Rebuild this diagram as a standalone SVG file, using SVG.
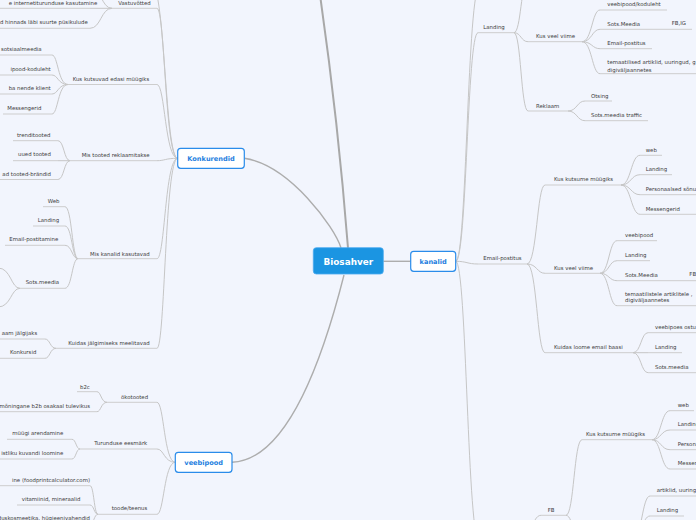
<svg xmlns="http://www.w3.org/2000/svg" width="696" height="520" viewBox="0 0 696 520">
<style>
.t{font-family:"DejaVu Sans",Verdana,sans-serif;font-size:5.4px;fill:#3c3c3c}
.e{text-anchor:end}
.ul{stroke:#cdcdcd;stroke-width:1;fill:none}
.c{stroke:#c6c6c6;stroke-width:1;fill:none}
.m{stroke:#adadad;stroke-width:1.4;fill:none}
.mt{stroke:#a8a8a8;stroke-width:2;fill:none}
.box{fill:#ffffff;stroke:#2a8cea;stroke-width:1.2}
.bt{font-family:"DejaVu Sans",Verdana,sans-serif;font-size:6.6px;font-weight:bold;fill:#1f7fe0;text-anchor:middle}
</style>
<rect width="696" height="520" fill="#f2f5fd"/>
<g id="connectors">
<path class="mt" d="M 348 248 Q 338 120 320 -5"/>
<path class="m" d="M 341 248 C 335 228, 290 165, 244.3 158.3"/>
<path class="m" d="M 344 275 C 325 350, 290 460, 232 462.3"/>
<path class="m" d="M 383.3 261.3 L 410.7 261.3"/>
<path class="c" d="M 177.7 158.3 C 165 158.3, 165 -15, 152 -15"/>
<path class="c" d="M 177.7 158.3 C 165 158.3, 165 8.3, 157 8.3"/>
<path class="c" d="M 177.7 158.3 C 165 158.3, 165 84.5, 157 84.5"/>
<path class="c" d="M 177.7 158.3 C 165 158.3, 165 160.7, 157 160.7"/>
<path class="c" d="M 177.7 158.3 C 165 158.3, 165 258.7, 157 258.7"/>
<path class="c" d="M 177.7 158.3 C 165 158.3, 165 348.3, 157 348.3"/>
<path class="c" d="M 112 8.3 C 101 8.3, 101 -14, 90 -14"/>
<path class="c" d="M 112 8.3 L 90 8.3"/>
<path class="c" d="M 112 8.3 C 101 8.3, 101 28.3, 90 28.3"/>
<path class="c" d="M 68 84.5 C 58 84.5, 58 55, 52 55"/>
<path class="c" d="M 68 84.5 C 58 84.5, 58 75, 52 75"/>
<path class="c" d="M 68 84.5 C 58 84.5, 58 94, 52 94"/>
<path class="c" d="M 68 84.5 C 58 84.5, 58 114, 52 114"/>
<path class="c" d="M 70 160.7 C 64 160.7, 64 140.7, 58 140.7"/>
<path class="c" d="M 70 160.7 L 58 160.7"/>
<path class="c" d="M 70 160.7 C 64 160.7, 64 179.5, 58 179.5"/>
<path class="c" d="M 78 258.7 C 72 258.7, 72 206.7, 65 206.7"/>
<path class="c" d="M 78 258.7 C 72 258.7, 72 226, 65 226"/>
<path class="c" d="M 78 258.7 C 72 258.7, 72 245.3, 65 245.3"/>
<path class="c" d="M 78 258.7 C 72 258.7, 72 288.3, 65 288.3"/>
<path class="c" d="M 20 288.3 C 11 288.3, 11 268, -2 268"/>
<path class="c" d="M 20 288.3 C 11 288.3, 11 307, -2 307"/>
<path class="c" d="M 56 348.3 C 50 348.3, 50 339, 45 339"/>
<path class="c" d="M 56 348.3 C 50 348.3, 50 358.3, 45 358.3"/>
<path class="c" d="M 175.3 462.3 C 164 462.3, 164 402.3, 157 402.3"/>
<path class="c" d="M 175.3 462.3 C 164 462.3, 164 449, 157 449"/>
<path class="c" d="M 175.3 462.3 C 164 462.3, 164 514.3, 157 514.3"/>
<path class="c" d="M 107 402.3 C 101 402.3, 101 391.7, 97 391.7"/>
<path class="c" d="M 107 402.3 C 101 402.3, 101 411.7, 97 411.7"/>
<path class="c" d="M 80 449 C 76 449, 76 439.3, 72 439.3"/>
<path class="c" d="M 80 449 C 76 449, 76 459, 72 459"/>
<path class="c" d="M 98 514.3 C 94 514.3, 94 485.7, 90 485.7"/>
<path class="c" d="M 98 514.3 C 94 514.3, 94 505, 90 505"/>
<path class="c" d="M 98 514.3 C 94 514.3, 94 524, 90 524"/>
<path class="c" d="M 455.7 261.3 C 467 261.3, 467 -15, 480 -15"/>
<path class="c" d="M 455.7 261.3 C 467 261.3, 467 32.7, 478 32.7"/>
<path class="c" d="M 455.7 261.3 C 467 261.3, 467 264, 478 264"/>
<path class="c" d="M 455.7 261.3 C 467 261.3, 467 545, 480 545"/>
<path class="c" d="M 514 32.7 C 521 32.7, 521 -20, 528 -20"/>
<path class="c" d="M 514 32.7 C 521 32.7, 521 41.7, 528 41.7"/>
<path class="c" d="M 514 32.7 C 521 32.7, 521 111, 528 111"/>
<path class="c" d="M 582 41.7 C 592 41.7, 592 10, 600 10"/>
<path class="c" d="M 582 41.7 C 592 41.7, 592 29.3, 600 29.3"/>
<path class="c" d="M 582 41.7 C 592 41.7, 592 48.7, 600 48.7"/>
<path class="c" d="M 582 41.7 C 592 41.7, 592 73.7, 600 73.7"/>
<path class="c" d="M 568 111 C 577 111, 577 101, 585 101"/>
<path class="c" d="M 568 111 C 577 111, 577 120.7, 585 120.7"/>
<path class="c" d="M 527 264 C 537 264, 537 185, 545 185"/>
<path class="c" d="M 527 264 C 537 264, 537 273.3, 545 273.3"/>
<path class="c" d="M 527 264 C 537 264, 537 352.7, 545 352.7"/>
<path class="c" d="M 621 185 C 631 185, 631 155.3, 640 155.3"/>
<path class="c" d="M 621 185 C 631 185, 631 174.7, 640 174.7"/>
<path class="c" d="M 621 185 C 631 185, 631 194.7, 640 194.7"/>
<path class="c" d="M 621 185 C 631 185, 631 214.3, 640 214.3"/>
<path class="c" d="M 600 273.3 C 609 273.3, 609 240.7, 617 240.7"/>
<path class="c" d="M 600 273.3 C 609 273.3, 609 260.7, 617 260.7"/>
<path class="c" d="M 600 273.3 C 609 273.3, 609 280.7, 617 280.7"/>
<path class="c" d="M 600 273.3 C 609 273.3, 609 305.7, 617 305.7"/>
<path class="c" d="M 633 352.7 C 641 352.7, 641 332.7, 648 332.7"/>
<path class="c" d="M 633 352.7 L 648 352.7"/>
<path class="c" d="M 633 352.7 C 641 352.7, 641 372.7, 648 372.7"/>
<path class="c" d="M 521 545 C 531 545, 531 515.3, 541 515.3"/>
<path class="c" d="M 566 515.3 C 574 515.3, 574 439.7, 582 439.7"/>
<path class="c" d="M 566 515.3 C 574 515.3, 574 550, 582 550"/>
<path class="c" d="M 652 439.7 C 661 439.7, 661 410.7, 670 410.7"/>
<path class="c" d="M 652 439.7 C 661 439.7, 661 430, 670 430"/>
<path class="c" d="M 652 439.7 C 661 439.7, 661 449.7, 670 449.7"/>
<path class="c" d="M 652 439.7 C 661 439.7, 661 469, 670 469"/>
<path class="c" d="M 632 540 C 642 540, 642 496, 650 496"/>
<path class="c" d="M 632 540 C 642 540, 642 516, 650 516"/>
</g>
<g id="n-biosahver"><rect x="313.3" y="247.7" width="70" height="26.3" rx="3" fill="#1b95e2" stroke="#4aaaf0" stroke-width="0.8"/><text x="348.3" y="265" style="font-family:'DejaVu Sans',Verdana,sans-serif;font-size:8.9px;font-weight:bold;fill:#ffffff;text-anchor:middle">Biosahver</text></g>
<g id="n-konkurendid"><rect class="box" x="177.7" y="148.3" width="66.6" height="20" rx="3"/><text class="bt" x="211" y="160.7">Konkurendid</text></g>
<g id="n-kanalid"><rect class="box" x="410.7" y="251.3" width="45" height="20" rx="3"/><text class="bt" x="433.2" y="263.7">kanalid</text></g>
<g id="n-veebipood"><rect class="box" x="175.3" y="452.3" width="56.7" height="20" rx="3"/><text class="bt" x="203.7" y="464.7">veebipood</text></g>

<g id="n-vastuvotted"><line class="ul" x1="112" y1="8.3" x2="157" y2="8.3"/><text class="t" x="118.3" y="5.3">Vastuvõtted</text></g>
<g id="n-internetiturundus"><line class="ul" x1="0" y1="8.3" x2="90" y2="8.3"/><text class="t e" x="97.3" y="5.3">e internetiturunduse kasutamine</text></g>
<g id="n-hinnad"><line class="ul" x1="0" y1="28.3" x2="90" y2="28.3"/><text class="t e" x="87.7" y="24">d hinnads läbi suurte püsikulude</text></g>
<g id="n-kus-kutsuvad"><line class="ul" x1="68" y1="84.5" x2="157" y2="84.5"/><text class="t" x="72.7" y="81">Kus kutsuvad edasi müügiks</text></g>
<g id="n-sotsiaalmeedia"><line class="ul" x1="0" y1="55" x2="52" y2="55"/><text class="t e" x="41.7" y="51">sotsiaalmeedia</text></g>
<g id="n-koduleht"><line class="ul" x1="0" y1="75" x2="52" y2="75"/><text class="t e" x="50.7" y="71">ipood-koduleht</text></g>
<g id="n-klient"><line class="ul" x1="0" y1="94" x2="52" y2="94"/><text class="t e" x="50.7" y="90.3">ba nende klient</text></g>
<g id="n-messengerid-l"><line class="ul" x1="3" y1="114" x2="52" y2="114"/><text class="t" x="7.3" y="110">Messengerid</text></g>
<g id="n-mis-tooted"><line class="ul" x1="70" y1="160.7" x2="157" y2="160.7"/><text class="t" x="81.7" y="157">Mis tooted reklaamitakse</text></g>
<g id="n-trenditooted"><line class="ul" x1="13" y1="140.7" x2="58" y2="140.7"/><text class="t" x="17" y="137">trenditooted</text></g>
<g id="n-uued-tooted"><line class="ul" x1="13" y1="160.7" x2="58" y2="160.7"/><text class="t" x="18" y="156">uued tooted</text></g>
<g id="n-brandid"><line class="ul" x1="0" y1="179.5" x2="58" y2="179.5"/><text class="t e" x="51" y="175.7">ad tooted-brändid</text></g>
<g id="n-mis-kanalid"><line class="ul" x1="78" y1="258.7" x2="157" y2="258.7"/><text class="t" x="90" y="255.5">Mis kanalid kasutavad</text></g>
<g id="n-web-l"><line class="ul" x1="43" y1="206.7" x2="65" y2="206.7"/><text class="t" x="47.7" y="203">Web</text></g>
<g id="n-landing-l"><line class="ul" x1="33" y1="226" x2="65" y2="226"/><text class="t" x="37.7" y="222">Landing</text></g>
<g id="n-email-postitamine"><line class="ul" x1="5" y1="245.3" x2="65" y2="245.3"/><text class="t" x="9.3" y="241.3">Email-postitamine</text></g>
<g id="n-sots-l"><line class="ul" x1="20" y1="288.3" x2="65" y2="288.3"/><text class="t" x="25.7" y="284">Sots.meedia</text></g>
<g id="n-kuidas-jalgimiseks"><line class="ul" x1="56" y1="348.3" x2="157" y2="348.3"/><text class="t" x="68.3" y="344.7">Kuidas jälgimiseks meelitavad</text></g>
<g id="n-jalgijaks"><line class="ul" x1="0" y1="339" x2="45" y2="339"/><text class="t e" x="37.3" y="334.7">aam jälgijaks</text></g>
<g id="n-konkursid"><line class="ul" x1="0" y1="358.3" x2="45" y2="358.3"/><text class="t" x="10" y="353.7">Konkursid</text></g>

<g id="n-okotooted"><line class="ul" x1="107" y1="402.3" x2="157" y2="402.3"/><text class="t" x="121" y="398.7">ökotooted</text></g>
<g id="n-b2c"><line class="ul" x1="77" y1="391.7" x2="97" y2="391.7"/><text class="t" x="80" y="388.7">b2c</text></g>
<g id="n-b2b"><line class="ul" x1="0" y1="411.7" x2="97" y2="411.7"/><text class="t e" x="90" y="407.7">mõningane b2b osakaal tulevikus</text></g>
<g id="n-turunduse"><line class="ul" x1="80" y1="449" x2="157" y2="449"/><text class="t" x="94.3" y="444.7">Turunduse eesmärk</text></g>
<g id="n-myygi"><line class="ul" x1="7" y1="439.3" x2="72" y2="439.3"/><text class="t" x="12.3" y="434.7">müügi arendamine</text></g>
<g id="n-kuvand"><line class="ul" x1="0" y1="459" x2="72" y2="459"/><text class="t e" x="63.3" y="454.7">istliku kuvandi loomine</text></g>
<g id="n-toode"><line class="ul" x1="98" y1="514.3" x2="157" y2="514.3"/><text class="t" x="111.7" y="510.3">toode/teenus</text></g>
<g id="n-foodprint"><line class="ul" x1="0" y1="485.7" x2="90" y2="485.7"/><text class="t e" x="90" y="482">ine (foodprintcalculator.com)</text></g>
<g id="n-vitamiinid"><line class="ul" x1="17" y1="505" x2="90" y2="505"/><text class="t" x="21.7" y="501">vitamiinid, mineraalid</text></g>
<g id="n-kosmeetika"><line class="ul" x1="0" y1="524" x2="90" y2="524"/><text class="t e" x="90" y="520">nduskosmeetika, hügieenivahendid</text></g>

<g id="n-landing"><line class="ul" x1="478" y1="32.7" x2="514" y2="32.7"/><text class="t" x="483.3" y="28.7">Landing</text></g>
<g id="n-kus-veel-1"><line class="ul" x1="528" y1="41.7" x2="582" y2="41.7"/><text class="t" x="536" y="38">Kus veel viime</text></g>
<g id="n-reklaam"><line class="ul" x1="528" y1="111" x2="568" y2="111"/><text class="t" x="536" y="108">Reklaam</text></g>
<g id="n-koduleht-r"><line class="ul" x1="600" y1="10" x2="667" y2="10"/><text class="t" x="607.3" y="6">veebipood/koduleht</text></g>
<g id="n-sots-r1"><line class="ul" x1="600" y1="29.3" x2="692" y2="29.3"/><text class="t" x="607.3" y="26">Sots.Meedia</text><text class="t" x="671.7" y="25">FB,IG</text></g>
<g id="n-email-r1"><line class="ul" x1="600" y1="48.7" x2="652" y2="48.7"/><text class="t" x="607.3" y="45">Email-postitus</text></g>
<g id="n-temaatilised"><line class="ul" x1="600" y1="73.7" x2="696" y2="73.7"/><text class="t" x="607.3" y="64">temaatilised artiklid, uuringud, g</text><text class="t" x="607.3" y="71.7">digiväljaannetes</text></g>
<g id="n-otsing"><line class="ul" x1="585" y1="101" x2="612" y2="101"/><text class="t" x="591" y="98">Otsing</text></g>
<g id="n-traffic"><line class="ul" x1="585" y1="120.7" x2="648" y2="120.7"/><text class="t" x="591" y="117">Sots.meedia traffic</text></g>

<g id="n-email-postitus"><line class="ul" x1="478" y1="264" x2="527" y2="264"/><text class="t" x="483.3" y="259.5">Email-postitus</text></g>
<g id="n-kus-kutsume-1"><line class="ul" x1="545" y1="185" x2="621" y2="185"/><text class="t" x="554" y="181">Kus kutsume müügiks</text></g>
<g id="n-web-1"><line class="ul" x1="640" y1="155.3" x2="662" y2="155.3"/><text class="t" x="645.7" y="152">web</text></g>
<g id="n-landing-1"><line class="ul" x1="640" y1="174.7" x2="672" y2="174.7"/><text class="t" x="645.7" y="171">Landing</text></g>
<g id="n-personaalsed-1"><line class="ul" x1="640" y1="194.7" x2="696" y2="194.7"/><text class="t" x="645.7" y="191">Personaalsed sõnu</text></g>
<g id="n-messengerid-1"><line class="ul" x1="640" y1="214.3" x2="696" y2="214.3"/><text class="t" x="645.7" y="211">Messengerid</text></g>
<g id="n-kus-veel-2"><line class="ul" x1="545" y1="273.3" x2="600" y2="273.3"/><text class="t" x="554" y="269.7">Kus veel viime</text></g>
<g id="n-veebipood-2"><line class="ul" x1="617" y1="240.7" x2="657" y2="240.7"/><text class="t" x="625" y="236.7">veebipood</text></g>
<g id="n-landing-2"><line class="ul" x1="617" y1="260.7" x2="650" y2="260.7"/><text class="t" x="625" y="257">Landing</text></g>
<g id="n-sots-2"><line class="ul" x1="617" y1="280.7" x2="696" y2="280.7"/><text class="t" x="625" y="277">Sots.Meedia</text><text class="t" x="689.3" y="275.7">FB</text></g>
<g id="n-temaatilistele"><line class="ul" x1="617" y1="305.7" x2="696" y2="305.7"/><text class="t" x="625" y="295.7">temaatilistele artiklitele ,</text><text class="t" x="625" y="302.3">digiväljaannetes</text></g>
<g id="n-kuidas-loome"><line class="ul" x1="545" y1="352.7" x2="633" y2="352.7"/><text class="t" x="554" y="349.3">Kuidas loome email baasi</text></g>
<g id="n-ostu"><line class="ul" x1="648" y1="332.7" x2="696" y2="332.7"/><text class="t" x="655" y="329">veebipoes ostu</text></g>
<g id="n-landing-3"><line class="ul" x1="648" y1="352.7" x2="682" y2="352.7"/><text class="t" x="655" y="349.3">Landing</text></g>
<g id="n-sots-3"><line class="ul" x1="648" y1="372.7" x2="696" y2="372.7"/><text class="t" x="655" y="369.3">Sots.meedia</text></g>

<g id="n-fb"><line class="ul" x1="541" y1="515.3" x2="566" y2="515.3"/><text class="t" x="547.7" y="512">FB</text></g>
<g id="n-kus-kutsume-2"><line class="ul" x1="582" y1="439.7" x2="652" y2="439.7"/><text class="t" x="586" y="435.7">Kus kutsume müügiks</text></g>
<g id="n-web-2"><line class="ul" x1="670" y1="410.7" x2="694" y2="410.7"/><text class="t" x="677.7" y="406.7">web</text></g>
<g id="n-landing-4"><line class="ul" x1="670" y1="430" x2="696" y2="430"/><text class="t" x="677.7" y="425.7">Landing</text></g>
<g id="n-personaalsed-2"><line class="ul" x1="670" y1="449.7" x2="696" y2="449.7"/><text class="t" x="677.7" y="445.7">Personaalsed sõnu</text></g>
<g id="n-messengerid-2"><line class="ul" x1="670" y1="469" x2="696" y2="469"/><text class="t" x="677.7" y="465">Messengerid</text></g>
<g id="n-artiklid"><line class="ul" x1="650" y1="496" x2="696" y2="496"/><text class="t" x="656.7" y="492">artiklid, uuring</text></g>
<g id="n-landing-5"><line class="ul" x1="650" y1="516" x2="684" y2="516"/><text class="t" x="656.7" y="512">Landing</text></g>
</svg>
